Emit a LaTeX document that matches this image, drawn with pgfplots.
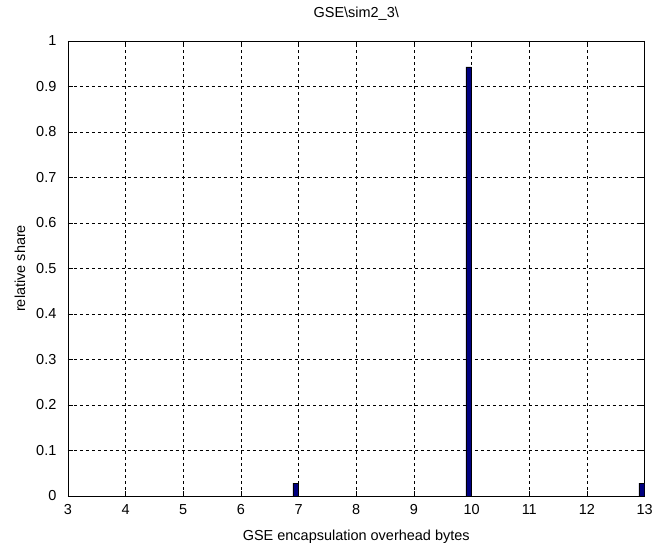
\documentclass[border=0pt]{standalone}
\usepackage{fontspec}
\setmainfont{Liberation Sans}
\usepackage{pgfplots}
\pgfplotsset{compat=1.18}
\usetikzlibrary{calc}
\definecolor{barcol}{RGB}{0,0,128}

\begin{document}
\begin{tikzpicture}[font=\fontsize{14.5}{17}\selectfont]
\begin{axis}[
    scale only axis, width=578pt, height=456pt,
    xmin=3, xmax=13, ymin=0, ymax=1,
    xtick={3,4,...,13}, ytick={0,0.1,...,1},
    yticklabel style={/pgf/number format/fixed, xshift=-8pt},
    xticklabel style={yshift=-5pt},
    /pgf/number format/assume math mode=true,
    tick align=inside, major tick length=5pt,
    xtick pos=both, ytick pos=both,
    grid=major,
    major grid style={black, dash pattern=on 3pt off 3pt, line width=0.5pt},
    axis line style={black, line width=0.6pt},
    tick style={black, line width=0.6pt},
    title={GSE\textbackslash sim2\_3\textbackslash},
    xlabel={GSE encapsulation overhead bytes},
    ylabel={relative share},
    xlabel style={yshift=-8pt},
    ylabel style={yshift=4pt},
    title style={yshift=11pt},
    clip=true,
]
\addplot[ybar, bar width=0.1, bar shift=-0.05, fill=barcol, draw=black, line width=0.4pt]
  coordinates {(7,0.028) (10,0.943) (13,0.028)};
\end{axis}
\path[use as bounding box] ($(current axis.south west)+(-68pt,-47pt)$) rectangle ($(current axis.north east)+(10pt,41pt)$);
\end{tikzpicture}
\end{document}
